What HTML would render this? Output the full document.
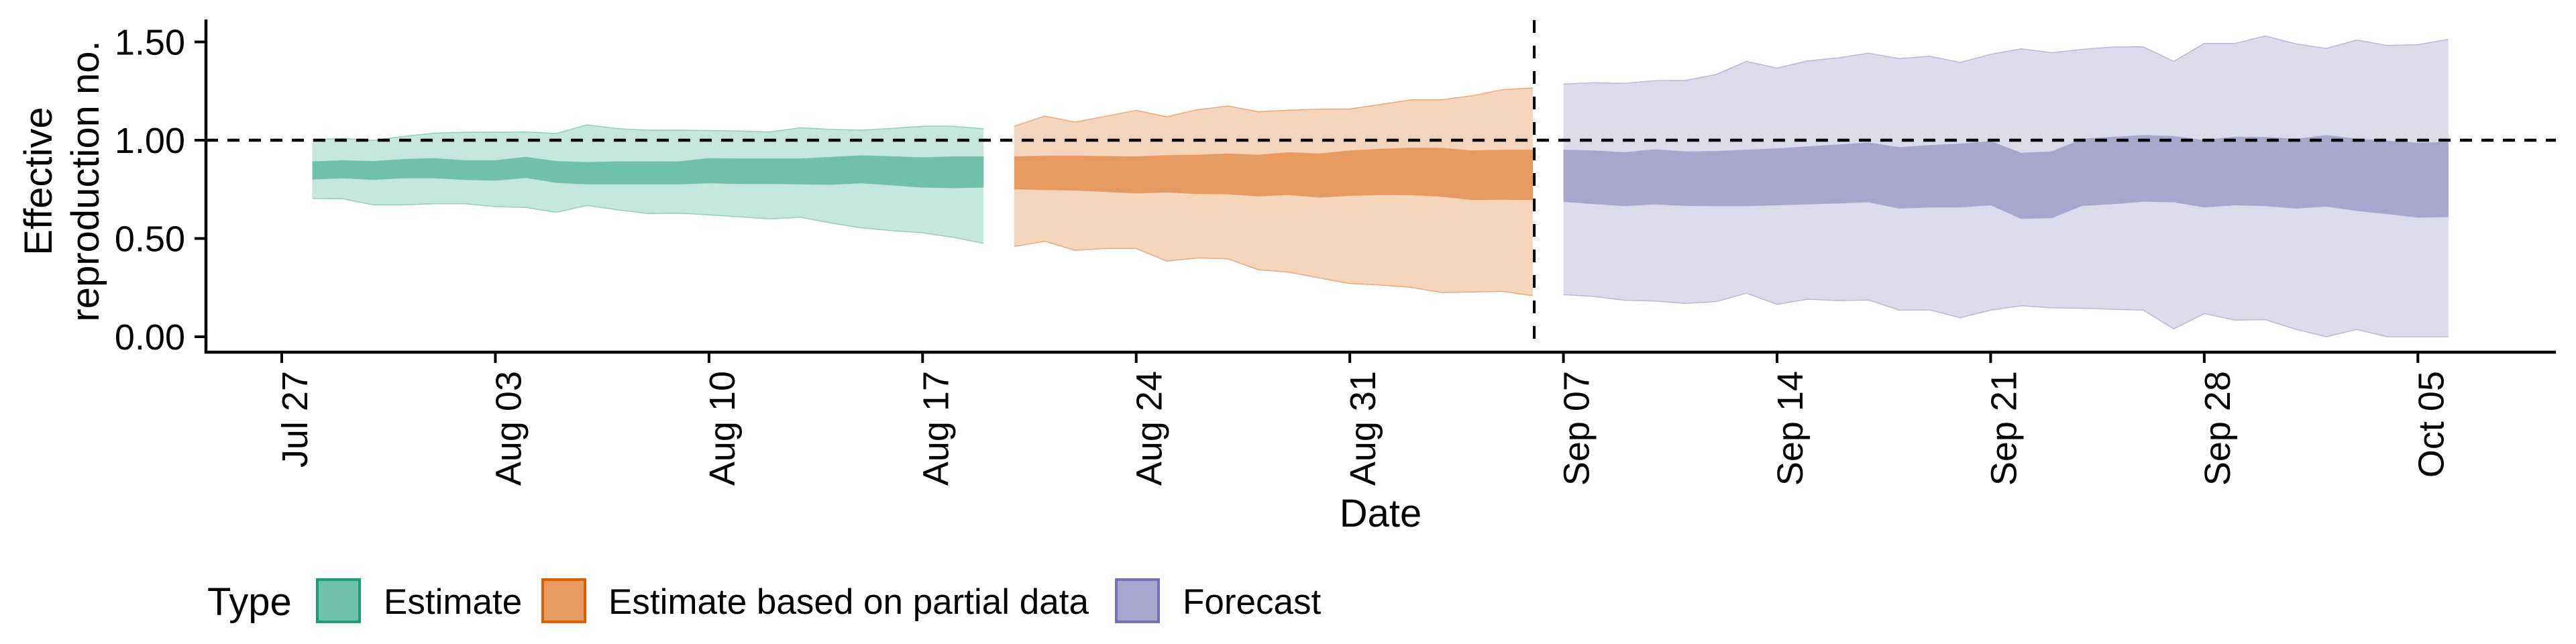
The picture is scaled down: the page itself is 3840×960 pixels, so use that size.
<!DOCTYPE html>
<html><head><meta charset="utf-8"><style>
html,body{margin:0;padding:0;background:#fff;width:3840px;height:960px;overflow:hidden}
svg{display:block;font-family:"Liberation Sans",Arial,sans-serif}
</style></head><body>
<svg id="chart" width="3840" height="960" viewBox="0 0 3840 960">
<g id="bands"></g>
<g id="axes"></g>
<g id="legend"></g>
</svg>
<script>
// ---- data ----
const tickDays = [0,7,14,21,28,35,42,49,56,63,70];
const tickLabels = ["Jul 27","Aug 03","Aug 10","Aug 17","Aug 24","Aug 31","Sep 07","Sep 14","Sep 21","Sep 28","Oct 05"];
const yTicks = [0,0.5,1.0,1.5];
const yTickLabels = ["0.00","0.50","1.00","1.50"];
const estStart = 1;
const estUpper90 = [1.003,1.009,0.999,1.019,1.036,1.040,1.040,1.042,1.034,1.078,1.059,1.051,1.051,1.049,1.047,1.042,1.063,1.055,1.051,1.060,1.071,1.071,1.058];
const estUpper50 = [0.892,0.898,0.894,0.904,0.909,0.898,0.898,0.915,0.894,0.888,0.892,0.892,0.892,0.909,0.907,0.907,0.907,0.915,0.923,0.918,0.913,0.917,0.917];
const estLower50 = [0.800,0.806,0.798,0.806,0.806,0.798,0.794,0.808,0.783,0.775,0.775,0.775,0.775,0.781,0.777,0.777,0.775,0.773,0.781,0.770,0.759,0.756,0.759];
const estLower90 = [0.704,0.702,0.671,0.671,0.677,0.677,0.662,0.658,0.633,0.668,0.646,0.627,0.629,0.620,0.610,0.600,0.608,0.579,0.554,0.540,0.529,0.506,0.475];
const partStart = 24;
const partUpper90 = [1.071,1.123,1.092,1.122,1.152,1.119,1.155,1.174,1.145,1.153,1.158,1.159,1.182,1.205,1.205,1.226,1.257,1.266];
const partUpper50 = [0.917,0.921,0.922,0.919,0.917,0.924,0.926,0.932,0.926,0.939,0.932,0.948,0.956,0.962,0.961,0.948,0.952,0.952];
const partLower50 = [0.751,0.746,0.744,0.737,0.729,0.734,0.726,0.725,0.714,0.721,0.708,0.717,0.721,0.720,0.712,0.696,0.697,0.696];
const partLower90 = [0.459,0.486,0.440,0.449,0.449,0.385,0.401,0.397,0.341,0.329,0.299,0.271,0.263,0.252,0.225,0.228,0.231,0.209];
const fcStart = 42;
const fcUpper90 = [1.286,1.292,1.289,1.303,1.304,1.334,1.401,1.367,1.403,1.419,1.443,1.415,1.427,1.396,1.437,1.465,1.445,1.462,1.474,1.475,1.401,1.492,1.492,1.530,1.490,1.467,1.510,1.482,1.486,1.513];
const fcUpper50 = [0.952,0.948,0.939,0.954,0.943,0.945,0.952,0.958,0.969,0.978,0.988,0.965,0.975,0.982,0.996,0.936,0.943,1.007,1.017,1.026,1.021,1.001,1.018,1.016,1.007,1.026,1.008,0.998,0.987,0.991];
const fcLower50 = [0.686,0.675,0.665,0.673,0.666,0.665,0.665,0.669,0.673,0.678,0.684,0.652,0.658,0.658,0.669,0.600,0.603,0.666,0.674,0.687,0.684,0.658,0.669,0.665,0.652,0.662,0.640,0.624,0.606,0.609];
const fcLower90 = [0.214,0.205,0.186,0.182,0.170,0.179,0.222,0.165,0.191,0.184,0.187,0.136,0.137,0.097,0.135,0.158,0.147,0.145,0.140,0.136,0.040,0.118,0.085,0.087,0.038,0.0,0.037,0.0,0.0,0.0];
const forecastDay = 41;

// ---- scales ----
const X0 = 420, DX = 45.49, Y0 = 502, DY = 293;
const xs = d => X0 + d*DX;
const ys = v => Y0 - v*DY;
const NS = "http://www.w3.org/2000/svg";
function mk(tag, attrs, parent){const e=document.createElementNS(NS,tag);for(const k in attrs)e.setAttribute(k,attrs[k]);parent.appendChild(e);return e;}

const bands = document.getElementById('bands');
function band(start, up, lo, fill, stroke, name){
  let pts = up.map((v,i)=>xs(start+i).toFixed(1)+','+ys(v).toFixed(1));
  for(let i=lo.length-1;i>=0;i--) pts.push(xs(start+i).toFixed(1)+','+ys(lo[i]).toFixed(1));
  const p = mk('polygon',{points:pts.join(' '),fill:fill},bands);
  
  
  if(stroke){
    const u = mk('polyline',{points:up.map((v,i)=>xs(start+i).toFixed(1)+','+ys(v).toFixed(1)).join(' '),fill:'none',stroke:stroke,'stroke-width':1.5},bands);
    
    
    const l = mk('polyline',{points:lo.map((v,i)=>xs(start+i).toFixed(1)+','+ys(v).toFixed(1)).join(' '),fill:'none',stroke:stroke,'stroke-width':1.5},bands);
    
    
  }
}
band(estStart, estUpper90, estLower90, '#c5e7dd', '#8fd0bd', 'estimate-90-band');
band(estStart, estUpper50, estLower50, '#6fc1aa', null, 'estimate-50-band');
band(partStart, partUpper90, partLower90, '#f5d6bd', '#eda878', 'partial-90-band');
band(partStart, partUpper50, partLower50, '#e69a60', null, 'partial-50-band');
band(fcStart, fcUpper90, fcLower90, '#dcdbeb', '#b9b6da', 'forecast-90-band');
band(fcStart, fcUpper50, fcLower50, '#a8a5ce', null, 'forecast-50-band');

const axes = document.getElementById('axes');
const hl = mk('line',{x1:307,x2:3810,y1:ys(1),y2:ys(1),stroke:'#000','stroke-width':4.5,'stroke-dasharray':'18 14'},axes);


const vl = mk('line',{x1:xs(forecastDay)+2,x2:xs(forecastDay)+2,y1:30,y2:525,stroke:'#000','stroke-width':4,'stroke-dasharray':'19 19'},axes);


const xa = mk('line',{x1:305,x2:3810,y1:525,y2:525,stroke:'#000','stroke-width':4.5},axes);


const ya = mk('line',{x1:307,x2:307,y1:29,y2:527,stroke:'#000','stroke-width':4.5},axes);


yTicks.forEach((v,i)=>{
  const t = mk('line',{x1:290,x2:307,y1:ys(v),y2:ys(v),stroke:'#000','stroke-width':4},axes);
  
  
  const l = mk('text',{x:276,y:ys(v)+19,'text-anchor':'end','font-size':54,fill:'#000'},axes);
  l.textContent = yTickLabels[i];
  
  
});
tickDays.forEach((d,i)=>{
  const x = xs(d);
  const t = mk('line',{x1:x,x2:x,y1:525,y2:541,stroke:'#000','stroke-width':4},axes);
  
  
  const l = mk('text',{x:0,y:0,'text-anchor':'end','font-size':54,fill:'#000',transform:`translate(${(x+38).toFixed(1)},553) rotate(-90)`},axes);
  l.textContent = tickLabels[i];
  
  
});
</script>
<svg style="position:absolute;left:0;top:0" width="3840" height="960">
<text x="2058" y="785" text-anchor="middle" font-size="58" font-family="Liberation Sans, sans-serif">Date</text>
<g transform="translate(77,270) rotate(-90)">
<text x="0" y="0" text-anchor="middle" font-size="58" font-family="Liberation Sans, sans-serif">Effective</text>
<text x="0" y="70" text-anchor="middle" font-size="58" font-family="Liberation Sans, sans-serif">reproduction no.</text>
</g>
<g font-family="Liberation Sans, sans-serif">
<text x="309" y="917" font-size="58">Type</text>
<g>
<rect x="473" y="864" width="63" height="63" fill="#6fc1aa" stroke="#1b9e77" stroke-width="4"/>
<text x="572" y="915" font-size="53">Estimate</text>
</g>
<g>
<rect x="809" y="864" width="63" height="63" fill="#e69a60" stroke="#d95f02" stroke-width="4"/>
<text x="907" y="915" font-size="53">Estimate based on partial data</text>
</g>
<g>
<rect x="1664" y="864" width="63" height="63" fill="#a8a5ce" stroke="#7570b3" stroke-width="4"/>
<text x="1763" y="915" font-size="53">Forecast</text>
</g>
</g>
</svg>
</body></html>
